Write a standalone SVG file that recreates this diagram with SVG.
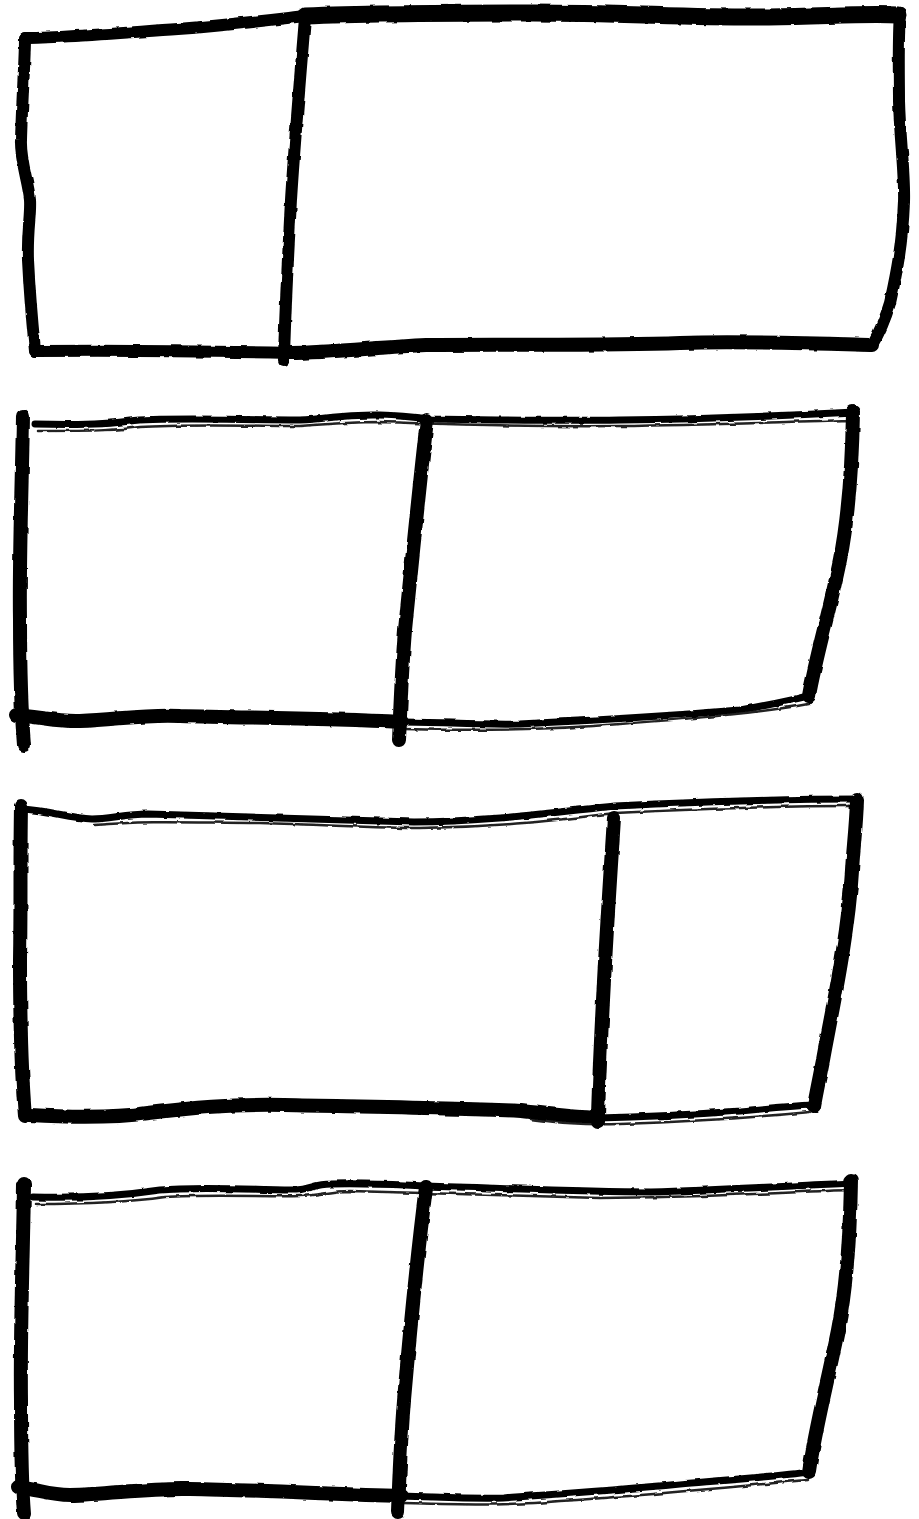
<svg xmlns="http://www.w3.org/2000/svg" width="919" height="1519" viewBox="0 0 919 1519">
<style>
.s{fill:none;stroke:#000;stroke-linecap:round;stroke-linejoin:round}
.x{stroke-width:17}
.k{stroke-width:14}
.m{stroke-width:12}
.t{stroke-width:7}
.h{stroke-width:2.5;stroke:#222}
</style>
<defs>
<filter id="rough" x="-5%" y="-5%" width="110%" height="110%">
<feTurbulence type="fractalNoise" baseFrequency="0.08" numOctaves="2" seed="3" result="n"/>
<feDisplacementMap in="SourceGraphic" in2="n" scale="3" xChannelSelector="R" yChannelSelector="G"/>
</filter>
</defs>
<rect width="919" height="1519" fill="#fff"/>
<g filter="url(#rough)">
<g id="box1">
<path class="s m" d="M25,38 C60,38 120,33 178,29 C230,25 270,20 305,16"/>
<path class="s x" d="M305,16 C380,13 450,13 533,13 C620,13 700,18 769,17 C830,16 870,13 898,15"/>
<path class="s m" d="M900,13 C898,40 899,80 899,101 C900,140 905,175 904,202 C902,250 895,280 890,303 C885,320 878,335 872,345"/>
<path class="s k" d="M872,345 C800,343 740,341 680,343 C600,346 500,344 426,345 C380,347 330,353 290,353"/>
<path class="s m" d="M290,353 C200,351 120,350 35,351"/>
<path class="s m" d="M35,351 C32,320 30,300 28,260 C27,230 31,215 30,200 C28,180 20,160 21,140 C22,100 25,60 25,38"/>
<path class="s m" d="M305,18 C300,80 294,150 291,200 C288,260 285,310 284,360"/>
</g>
<g id="box2">
<path class="s t" d="M35,424 C70,425 110,424 130,421 C160,417 240,420 300,420 C330,419 340,414 380,415 C410,416 420,418 429,419 C500,420 560,421 620,420 C700,419 780,416 855,412"/>
<path class="s h" d="M38,431 C100,431 120,430 140,427 C180,424 260,426 300,426 C340,423 360,422 380,422 C420,423 500,427 620,426 C700,425 790,422 852,420"/>
<path class="s k" d="M23,416 C22,480 19,560 20,620 C20,680 22,720 24,745"/>
<path class="s k" d="M853,412 C852,470 848,520 840,560 C830,610 815,660 809,696"/>
<path class="s k" d="M16,715 C40,717 60,722 80,721 C120,719 150,714 180,716 C250,718 320,718 402,722"/>
<path class="s t" d="M402,722 C440,722 480,725 520,724 C600,720 680,715 740,710 C770,705 790,700 809,696"/>
<path class="s h" d="M404,729 C480,731 560,729 620,724 C700,718 760,713 808,704"/>
<path class="s k" d="M427,420 C420,480 412,560 405,630 C401,680 400,720 399,740"/>
</g>
<g id="box3">
<path class="s k" d="M21,806 C20,860 21,900 20,960 C20,1020 22,1080 25,1116"/>
<path class="s t" d="M24,809 C50,811 70,818 92,819 C110,819 125,814 148,814 C200,816 300,819 414,822 C480,822 540,814 615,806 C700,802 780,799 858,799"/>
<path class="s h" d="M95,825 C150,820 200,823 260,823 C330,825 380,828 420,828 C500,827 560,820 615,813 C700,809 790,806 850,806"/>
<path class="s k" d="M857,800 C856,830 853,850 852,871 C848,940 830,1020 823,1060 C818,1085 816,1095 814,1106"/>
<path class="s k" d="M30,1115 C80,1118 120,1117 148,1113 C190,1108 230,1104 284,1105 C380,1107 460,1108 521,1111 C550,1114 570,1117 598,1118"/>
<path class="s t" d="M598,1118 C650,1117 700,1114 740,1111 C770,1108 790,1106 812,1105"/>
<path class="s h" d="M530,1119 C560,1123 580,1125 620,1124 C700,1121 770,1116 810,1112"/>
<path class="s k" d="M614,818 C610,880 606,940 603,1000 C600,1060 598,1100 598,1122"/>
</g>
<g id="box4">
<path class="s t" d="M33,1197 C70,1198 120,1196 160,1190 C200,1186 260,1190 296,1190 C310,1189 315,1184 331,1184 C370,1183 400,1185 426,1186 C500,1188 580,1192 651,1192 C720,1190 790,1186 852,1183"/>
<path class="s h" d="M36,1204 C90,1204 130,1202 165,1197 C210,1194 270,1197 300,1196 C320,1195 330,1191 350,1191 C400,1192 500,1195 600,1198 C700,1198 790,1192 850,1190"/>
<path class="s k" d="M24,1184 C23,1260 20,1330 21,1400 C21,1450 22,1490 24,1514"/>
<path class="s k" d="M851,1181 C850,1240 846,1290 838,1330 C828,1380 815,1430 809,1472"/>
<path class="s k" d="M18,1487 C40,1490 50,1495 70,1495 C110,1494 150,1488 189,1489 C260,1490 330,1494 402,1496"/>
<path class="s t" d="M402,1496 C440,1497 470,1499 503,1498 C560,1494 620,1490 680,1484 C740,1479 780,1476 809,1472"/>
<path class="s h" d="M404,1503 C460,1505 520,1505 560,1501 C640,1496 720,1488 808,1480"/>
<path class="s k" d="M426,1187 C418,1250 410,1330 404,1400 C400,1450 399,1490 398,1512"/>
</g>
</g>
</svg>
